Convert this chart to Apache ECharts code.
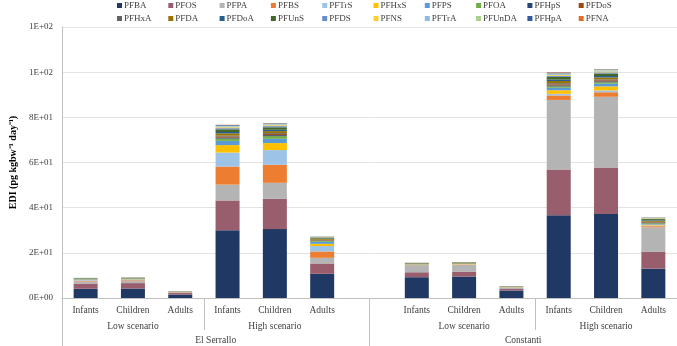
<!DOCTYPE html>
<html>
<head>
<meta charset="utf-8">
<script src="https://cdn.jsdelivr.net/npm/echarts@6/dist/echarts.min.js"></script>
<style>
  html, body { margin: 0; padding: 0; background: #fff; }
  #edi-chart { width: 677px; height: 346px; }
</style>
</head>
<body>
<div id="edi-chart"></div>
<script>
// categories (blank slot between the two sites)
var ageGroups = ['Infants', 'Children', 'Adults', 'Infants', 'Children', 'Adults', '',
                 'Infants', 'Children', 'Adults', 'Infants', 'Children', 'Adults'];
var scenarios = ['', 'Low scenario', '', '', 'High scenario', '', '',
                 '', 'Low scenario', '', '', 'High scenario', ''];
var sites = ['El Serrallo', 'Constanti'];
var yTicks = [0, 20, 40, 60, 80, 100, 120];

// series values, pg kgbw-1 day-1 (stack order bottom -> top)
var PFBA   = [4.1, 4.2, 1.5, 30.0, 30.5, 10.7, null, 9.2, 9.5, 3.3, 36.6, 37.2, 13.0];
var PFOS   = [2.3, 2.4, 0.7, 13.2, 13.4, 4.6, null, 2.2, 2.2, 0.7, 20.3, 20.6, 7.4];
var PFPA   = [0.9, 0.9, 0.3, 7.0, 7.1, 2.5, null, 3.1, 3.0, 0.6, 30.8, 31.3, 10.9];
var PFBS   = [0.35, 0.35, 0.12, 8.0, 8.0, 2.8, null, 0.15, 0.15, 0.1, 2.0, 2.0, 0.5];
var PFTrS  = [0.3, 0.3, 0.1, 6.2, 6.5, 2.4, null, 0.1, 0.1, 0.05, 0.7, 0.8, 0.3];
var PFHxS  = [0.15, 0.15, 0.05, 3.3, 3.1, 1.0, null, 0.1, 0.1, 0.05, 1.6, 1.8, 0.4];
var PFPS   = [0.15, 0.15, 0.05, 1.9, 1.9, 0.9, null, 0.05, 0.05, 0.03, 1.1, 1.2, 0.3];
var PFOA   = [0.12, 0.12, 0.05, 1.0, 1.2, 0.4, null, 0.1, 0.1, 0.05, 0.6, 0.6, 0.3];
var PFHpS  = [0.05, 0.05, 0.02, 0.4, 0.4, 0.15, null, 0.05, 0.05, 0.03, 0.4, 0.4, 0.2];
var PFDoS  = [0.05, 0.05, 0.02, 0.5, 0.5, 0.2, null, 0.05, 0.05, 0.03, 0.5, 0.5, 0.25];
var PFHxA  = [0.05, 0.05, 0.02, 0.4, 0.4, 0.15, null, 0.05, 0.05, 0.03, 0.5, 0.4, 0.2];
var PFDA   = [0.1, 0.1, 0.05, 1.0, 0.9, 0.35, null, 0.15, 0.15, 0.08, 1.0, 0.9, 0.45];
var PFDoA  = [0.05, 0.05, 0.02, 0.6, 0.6, 0.2, null, 0.05, 0.05, 0.03, 0.6, 0.6, 0.25];
var PFUnS  = [0.15, 0.15, 0.05, 1.2, 1.1, 0.4, null, 0.2, 0.25, 0.12, 1.2, 1.1, 0.5];
var PFDS   = [0.05, 0.05, 0.02, 0.5, 0.5, 0.15, null, 0.05, 0.05, 0.03, 0.5, 0.5, 0.2];
var PFNS   = [0.03, 0.03, 0.02, 0.4, 0.4, 0.1, null, 0.03, 0.03, 0.02, 0.4, 0.4, 0.2];
var PFTrA  = [0.03, 0.03, 0.01, 0.4, 0.4, 0.1, null, 0.03, 0.03, 0.02, 0.4, 0.4, 0.15];
var PFUnDA = [0.02, 0.02, 0.01, 0.3, 0.3, 0.1, null, 0.02, 0.02, 0.01, 0.3, 0.3, 0.1];
var PFHpA  = [0.01, 0.01, 0.01, 0.3, 0.2, 0.05, null, 0.01, 0.01, 0.01, 0.3, 0.2, 0.1];
var PFNA   = [0.01, 0.01, 0.01, 0.1, 0.1, 0.05, null, 0.01, 0.01, 0.01, 0.2, 0.1, 0.05];

var seriesNames = ['PFBA', 'PFOS', 'PFPA', 'PFBS', 'PFTrS', 'PFHxS', 'PFPS', 'PFOA', 'PFHpS', 'PFDoS',
                   'PFHxA', 'PFDA', 'PFDoA', 'PFUnS', 'PFDS', 'PFNS', 'PFTrA', 'PFUnDA', 'PFHpA', 'PFNA'];
var seriesData = [PFBA, PFOS, PFPA, PFBS, PFTrS, PFHxS, PFPS, PFOA, PFHpS, PFDoS,
                  PFHxA, PFDA, PFDoA, PFUnS, PFDS, PFNS, PFTrA, PFUnDA, PFHpA, PFNA];
var colors = ['#203864', '#985E6D', '#B4B4B4', '#ED7D31', '#9DC3E6', '#FFC000', '#5B9BD5', '#70AD47', '#264478', '#9E480E',
              '#636363', '#997300', '#255E91', '#43682B', '#698ED0', '#FFCD33', '#8FBCE6', '#A9D18E', '#335AA1', '#E46C2A'];

var serif = '"Liberation Serif", "Times New Roman", serif';

// half-slot axis so the site labels and the site divider can sit mid-way
var siteSlots = [];
for (var i = 0; i < 26; i++) siteSlots.push('');
siteSlots[6] = sites[0];
siteSlots[19] = sites[1];

function sciLabel(v) {
    var s = Number(v).toExponential(0);          // e.g. "2e+1"
    return s.replace(/e([+-])(\d)$/, 'E$10$2').replace(/e([+-])(\d\d)$/, 'E$1$2');
}

// one legend per entry so the columns line up like the excel legend
var legends = seriesNames.map(function (name, k) {
    return {
        left: 115 + (k % 10) * 51.3,
        top: k < 10 ? -1 : 12,
        data: [name],
        itemWidth: 5,
        itemHeight: 5,
        icon: 'rect',
        selectedMode: false,
        padding: 2,
        textStyle: { fontFamily: serif, fontSize: 9, color: '#404040', padding: [0, 0, 0, -3] }
    };
});

option = {
    color: colors,
    animation: false,
    legend: legends,
    grid: {
        left: 52,
        right: 0,
        top: 27,
        bottom: 48
    },
    xAxis: [
        {
            type: 'category',
            position: 'bottom',
            data: ageGroups,
            axisLine: { lineStyle: { color: '#BFBFBF', width: 1 } },
            axisTick: {
                show: true,
                length: 32,
                lineStyle: { color: '#BFBFBF' },
                interval: function (idx) { return idx === 3 || idx === 10; }
            },
            axisLabel: { interval: 0, margin: 7, fontFamily: serif, fontSize: 9.5, color: '#404040' }
        },
        {
            type: 'category',
            position: 'bottom',
            data: scenarios,
            axisLine: { show: false },
            axisTick: { show: false },
            axisLabel: { interval: 0, margin: 23, fontFamily: serif, fontSize: 9.5, color: '#404040' }
        },
        {
            type: 'category',
            position: 'bottom',
            data: siteSlots,
            axisLine: { show: false },
            axisTick: {
                show: true,
                length: 48,
                lineStyle: { color: '#BFBFBF' },
                interval: function (idx) { return idx === 0 || idx === 13; }
            },
            axisLabel: { interval: 0, margin: 37, fontFamily: serif, fontSize: 9.5, color: '#404040' }
        }
    ],
    yAxis: {
        type: 'value',
        min: yTicks[0],
        max: yTicks[yTicks.length - 1],
        interval: yTicks[1] - yTicks[0],
        name: 'EDI (pg kgbw\u207B\u00B9 day\u207B\u00B9)',
        nameLocation: 'middle',
        nameGap: 38,
        nameRotate: 90,
        nameTextStyle: { fontFamily: serif, fontSize: 10, fontWeight: 'bold', color: '#000' },
        axisLine: { show: true, lineStyle: { color: '#BFBFBF' } },
        axisTick: { show: false },
        splitLine: { lineStyle: { color: '#E3E3E3' } },
        axisLabel: { formatter: sciLabel, margin: 9, fontFamily: serif, fontSize: 9, color: '#404040' }
    },
    series: seriesNames.map(function (name, k) {
        return {
            name: name,
            type: 'bar',
            stack: 'edi',
            xAxisIndex: 0,
            barWidth: 24,
            data: seriesData[k]
        };
    })
};

var chart = echarts.init(document.getElementById('edi-chart'));
chart.setOption(option);
</script>
</body>
</html>
